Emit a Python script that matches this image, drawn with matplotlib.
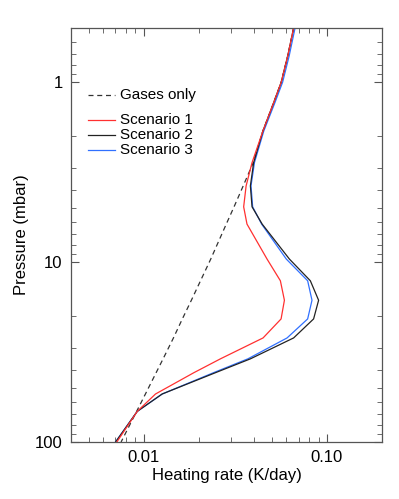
import matplotlib
matplotlib.use("Agg")
import matplotlib.pyplot as plt
from matplotlib.ticker import FixedLocator, FixedFormatter, LogLocator, NullFormatter

plt.rcParams['font.family'] = ['Liberation Sans', 'DejaVu Sans']

# Pressure levels (mbar)
pressure = [0.5, 0.715, 1.0, 1.30, 1.87, 2.8, 3.77, 4.93, 6.15, 9.62, 12.7,
            16.3, 20.7, 26.4, 34.5, 41.2, 54.1, 67.6, 100.0]

# Heating rates (K/day)
gases_only = [0.0658, 0.0611, 0.0563, 0.0512, 0.0447, 0.0396, 0.0349, 0.0311,
              0.0282, 0.0232, 0.0204, 0.01818, 0.01623, 0.01451, 0.01274,
              0.01167, 0.0102, 0.00913, 0.00751]
scenario1 = [0.0658, 0.0611, 0.0563, 0.0512, 0.0447, 0.0390, 0.0362, 0.0351,
             0.0366, 0.0471, 0.0557, 0.0586, 0.0562, 0.0448, 0.0262, 0.01875,
             0.01158, 0.0092, 0.00712]
scenario2 = [0.0658, 0.0611, 0.0563, 0.0512, 0.0447, 0.0398, 0.0382, 0.0390,
             0.0443, 0.0624, 0.0812, 0.0901, 0.0846, 0.0658, 0.0382, 0.0246,
             0.01259, 0.0092, 0.00701]
scenario3 = [0.0670, 0.0622, 0.0573, 0.0520, 0.0452, 0.0402, 0.0385, 0.0393,
             0.0440, 0.0600, 0.0785, 0.0829, 0.0785, 0.0606, 0.0370, 0.0240,
             0.0126, 0.0092, 0.00700]

legend_labels = ["Gases only", "Scenario 1", "Scenario 2", "Scenario 3"]
colors = ["#333333", "#ff3030", "#222222", "#3070ff"]

fig = plt.figure(figsize=(3.99, 4.99), dpi=100)
ax = fig.add_axes([71/399, 1 - 442/499, 311/399, 414/499])

ax.plot(gases_only, pressure, color=colors[0], lw=0.9, ls=(0, (4, 3)))
ax.plot(scenario3, pressure, color=colors[3], lw=0.9)
ax.plot(scenario2, pressure, color=colors[2], lw=0.9)
ax.plot(scenario1, pressure, color=colors[1], lw=0.9)

ax.set_xscale('log')
ax.set_yscale('log')
ax.set_xlim(0.004, 0.2)
ax.set_ylim(100, 0.5)

ax.xaxis.set_major_locator(FixedLocator([0.01, 0.1]))
ax.xaxis.set_major_formatter(FixedFormatter(["0.01", "0.10"]))
ax.xaxis.set_minor_locator(LogLocator(base=10, subs=range(2, 10)))
ax.xaxis.set_minor_formatter(NullFormatter())
ax.yaxis.set_major_locator(FixedLocator([1, 10, 100]))
ax.yaxis.set_major_formatter(FixedFormatter(["1", "10", "100"]))
ax.yaxis.set_minor_locator(LogLocator(base=10, subs=range(2, 10)))
ax.yaxis.set_minor_formatter(NullFormatter())

ax.tick_params(which='both', direction='in', top=True, right=True,
               labelsize=12, color='#555555')
ax.tick_params(which='major', length=6, width=0.8, pad=6)
ax.tick_params(which='minor', length=3.5, width=0.6)
for s in ax.spines.values():
    s.set_color('#555555')
    s.set_linewidth(0.9)

ax.set_xlabel("Heating rate (K/day)", fontsize=12, labelpad=2)
ax.set_ylabel("Pressure (mbar)", fontsize=12, labelpad=4)

# Legend drawn manually
ys = [0.838, 0.778, 0.742, 0.705]
styles = [(0, (4, 3)), '-', '-', '-']
for y, lab, c, st in zip(ys, legend_labels, colors, styles):
    ax.plot([0.055, 0.1415], [y, y], transform=ax.transAxes, color=c,
            lw=0.9, ls=st)
    ax.text(0.158, y, lab, transform=ax.transAxes, fontsize=11,
            va='center', ha='left')

fig.savefig("out.png", dpi=100)
